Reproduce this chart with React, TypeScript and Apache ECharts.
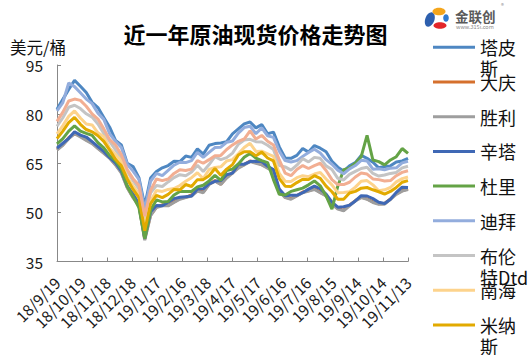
import React, { useEffect, useRef } from "react";
import * as echarts from "echarts";

const FONT = '"Noto Sans CJK SC", "Noto Sans", sans-serif';

const titleText = "近一年原油现货价格走势图";
const yUnit = "美元/桶";
const tickLabels = [
  "18/9/19", "18/10/19", "18/11/18", "18/12/18", "19/1/17", "19/2/16", "19/3/18", "19/4/17",
  "19/5/17", "19/6/16", "19/7/16", "19/8/15", "19/9/14", "19/10/14", "19/11/13",
];

// days since 2018/9/19 of each weekly sample
const sampleDays = [
  0, 7, 14, 21, 28, 35, 42, 49, 56, 63, 70, 77, 84, 91, 98, 105, 112, 119, 126, 133, 140,
  147, 154, 161, 168, 175, 182, 189, 196, 203, 210, 217, 224, 231, 238, 245, 252, 259, 266,
  273, 280, 287, 294, 301, 308, 315, 322, 329, 336, 343, 350, 357, 364, 371, 378, 385, 392,
  399, 406, 413, 420,
];

const tapis = [81.5, 84.5, 87.5, 90.3, 88.5, 86.6, 83.6, 82, 79, 76, 72, 70.6, 65, 64, 60.6, 52, 60.5, 62.5, 63.6, 64.3, 65.6, 65.5, 67.2, 66.8, 69.4, 67.8, 70.5, 71, 71.2, 71.6, 74, 75.5, 77, 77.6, 75.8, 76.8, 74, 74.5, 70, 66.6, 66.5, 67.4, 69.5, 68.4, 70.4, 69.6, 68.5, 65.6, 63.8, 62.6, 64.2, 65.2, 67.4, 66.5, 65.3, 63.6, 64, 64.2, 65.4, 65.7, 66.5];
const daqing = [69.3, 70.6, 72.8, 74.1, 73.3, 72.1, 71.3, 69.6, 68.2, 66.7, 64.6, 62.3, 57.7, 54.6, 52.3, 41.8, 49.2, 51.6, 52.3, 52.1, 53.2, 54.2, 54.6, 55.3, 56.6, 56.2, 58.6, 59.7, 58.6, 60.7, 62.1, 63.7, 64.6, 65.7, 65.2, 64.6, 63.7, 62.6, 56.7, 54.6, 54.2, 55.1, 56.2, 56.6, 57.2, 56.1, 55.2, 52.6, 51.2, 50.6, 52.2, 53.6, 54.7, 54.1, 53.2, 52.6, 52.7, 54.1, 55.7, 56.6, 57.2];
const shengli = [69, 70.5, 72.5, 74, 73, 72, 71, 69.5, 68, 66.5, 64.5, 62, 57.5, 54.5, 52, 41.5, 49, 51.5, 52, 52, 53, 54, 54.5, 55, 56.5, 56, 58.5, 59.5, 58.5, 60.5, 62, 63.5, 64.5, 65.5, 65, 64.5, 63.5, 62.5, 56.5, 54.5, 54, 55, 56, 56.5, 57, 56, 55, 52.5, 51, 50.5, 52, 53.5, 54.5, 54, 53, 52.5, 52.5, 54, 55.5, 56.5, 57];
const sinta = [69.6, 71.1, 72.6, 74.6, 73.6, 73, 71.6, 70.1, 68.6, 66.7, 65.1, 62.6, 58.1, 55.6, 52.6, 42.1, 50.2, 52.1, 52, 53.1, 54.2, 54.6, 54.8, 55, 57.1, 57.2, 58.7, 59.5, 59.7, 61.5, 62, 64.7, 64.7, 65.5, 65.6, 65.5, 64.1, 63.1, 57.1, 55.1, 55.2, 55.2, 56, 57.1, 58, 57.2, 55.6, 53.1, 51.6, 51.7, 52.2, 53.5, 55.1, 55, 54.2, 53.1, 52.7, 54, 56.1, 57.7, 57.6];
const duri = [70.9, 72.5, 74.8, 76.4, 74.8, 74.1, 73.5, 71.3, 69.7, 67.3, 65.7, 63.2, 58, 54.8, 51.5, 42, 50.7, 53.8, 53.2, 53.3, 55.3, 56.4, 56.4, 56.4, 57.8, 58.3, 59.6, 61.3, 59.8, 62.8, 63.2, 64.8, 66.8, 68, 66.6, 65.8, 65.2, 60, 55.5, 55.3, 56.4, 56.9, 57.4, 58.4, 59.6, 58.1, 55, 51, 58, 63, 63.5, 65, 67, 73.5, 66, 65.5, 64.5, 66, 67, 69.5, 68];
const dubai = [81, 83.5, 89.5, 88.4, 86.5, 84.6, 83.2, 80.3, 78.4, 74, 71.7, 69.8, 64.7, 62.6, 60.1, 50.8, 59.5, 61.9, 61.2, 62.8, 64.4, 65.3, 65.2, 65.8, 68.3, 66.8, 68.3, 69.8, 69.9, 71.4, 71.8, 74.2, 75.9, 76.3, 74, 75.8, 73.4, 72.9, 68.7, 65.8, 65.4, 65.8, 67.1, 68.3, 69.3, 68.1, 66.1, 64.7, 62.9, 61.8, 63.3, 64.3, 65.9, 65.7, 63.2, 63.3, 63, 63.5, 63.6, 65.1, 65.6];
const brent = [76.3, 78.9, 82.1, 82.7, 81.7, 80.1, 79.1, 77, 74.1, 71.7, 69.1, 66.6, 62.6, 59.7, 57.2, 47.6, 56, 58.2, 57.9, 59.3, 60.6, 61.5, 61.2, 62.3, 64.4, 62.5, 64.6, 67, 66.1, 66.7, 68.1, 70.8, 72.1, 72.3, 71.6, 71.5, 70.5, 69.2, 64.3, 63.9, 62.9, 64.4, 66.4, 65.4, 66.8, 66.5, 64.2, 63.1, 60.4, 59.9, 61.6, 62.5, 63.4, 63.8, 61.9, 61.1, 61.4, 61.9, 62.2, 63.6, 64.1];
const nanhai = [74, 76.5, 79.3, 81, 78.8, 77, 76.7, 74.3, 73.1, 69.6, 67.7, 65.7, 60.7, 58.1, 55.6, 45.7, 53.4, 56.7, 56.4, 57, 57.3, 58.2, 59.5, 60.6, 62.1, 60.3, 63.1, 63.7, 63.9, 65.7, 66.1, 67.9, 69.8, 71.1, 68.6, 68.7, 67.9, 67.1, 61.9, 59.5, 59.4, 60.6, 61.2, 60.9, 61.7, 62.2, 60.2, 58.4, 56, 56.1, 56.3, 57.7, 59.5, 59.7, 58.4, 56.6, 56.9, 57.6, 59.3, 60.3, 60.8];
const minas = [72.5, 74.8, 77.4, 79, 76.9, 75.3, 74.6, 73.4, 71.7, 69, 66.2, 64.2, 60.2, 57, 54.5, 44.4, 52.7, 55.2, 54.5, 55.5, 57, 56.9, 58.5, 57.9, 60, 60, 61.2, 63.4, 61.3, 63.2, 64.6, 67.5, 68.5, 68.5, 67.3, 68.4, 66.6, 65.7, 60.3, 58, 57.9, 59.1, 60.1, 60, 61.2, 60.4, 58, 56.3, 54, 54, 55.9, 56.4, 57.4, 57.6, 56.9, 56.3, 55.6, 56.4, 57.6, 59.2, 59.7];
// tenth series, its legend entry falls below the visible area
const tenth = [77.8, 80.6, 84, 84.6, 84.2, 82.4, 80.1, 78.5, 75.5, 72.2, 70.6, 67.6, 63.1, 60.3, 58.3, 48.9, 56.7, 60.2, 59.7, 60.2, 61.9, 63, 62.8, 63.2, 65.8, 65, 66.1, 67.3, 67.4, 69.2, 70.6, 71.7, 72.4, 74.9, 72.4, 73.5, 71.7, 70.6, 66, 62, 61.2, 63.1, 64.3, 63.4, 64.3, 65, 62.8, 60, 58.5, 58.5, 59.2, 60.8, 62, 61.7, 60.2, 60, 59.6, 59.7, 61.2, 62.2, 62.7];

const seriesNames = ["塔皮斯", "大庆", "胜利", "辛塔", "杜里", "迪拜", "布伦特Dtd", "南海", "米纳斯"];
const seriesValues = [tapis, daqing, shengli, sinta, duri, dubai, brent, nanhai, minas];
const seriesColors = ["#4E87C2", "#D5702D", "#9E9E9E", "#3F68B5", "#64A346", "#93ADDD", "#C4C4C4", "#FDD38C", "#E2AA00"];
const tenthColor = "#F2AE92";

function wrapName(n: string) {
  return n.length > 2 ? n.slice(0, 2) + "\n" + n.slice(2) : n;
}

export default function App() {
  const ref = useRef<HTMLDivElement>(null);
  useEffect(() => {
    document.body.style.margin = "0";
    if (!ref.current) return;
    const chart = echarts.init(ref.current, null, { renderer: "svg" });

    const lineSeries: any[] = seriesValues.map((vals, k) => ({
      type: "line",
      name: seriesNames[k],
      data: sampleDays.map((d, i) => [d, vals[i]]),
      symbol: "none",
      showSymbol: false,
      lineStyle: { width: 3, color: seriesColors[k] },
      itemStyle: { color: seriesColors[k] },
    }));
    lineSeries.push({
      type: "line",
      data: sampleDays.map((d, i) => [d, tenth[i]]),
      symbol: "none",
      showSymbol: false,
      lineStyle: { width: 3, color: tenthColor },
      itemStyle: { color: tenthColor },
    });

    const legendGraphics: any[] = [];
    seriesNames.forEach((n, k) => {
      const y = 47.3 + k * 34.7;
      legendGraphics.push({
        type: "line",
        shape: { x1: 433, y1: y, x2: 475, y2: y },
        style: { stroke: seriesColors[k], lineWidth: 3 },
      });
      legendGraphics.push({
        type: "text",
        x: 480,
        y: y - 10.5,
        style: {
          text: wrapName(n),
          fill: "#111",
          font: `18px ${FONT}`,
          lineHeight: 21,
          textVerticalAlign: "top",
          verticalAlign: "top",
        },
      });
    });

    const axisColor = "#888888";
    chart.setOption({
      animation: false,
      backgroundColor: "#ffffff",
      textStyle: { fontFamily: FONT },
      grid: { left: 57, top: 65, width: 351, height: 196.5, containLabel: false },
      xAxis: {
        type: "value",
        min: 0,
        max: 420,
        interval: 30,
        splitLine: { show: false },
        axisLine: { show: true, lineStyle: { color: axisColor, width: 1 } },
        axisTick: { show: true, inside: true, length: 4, lineStyle: { color: axisColor } },
        axisLabel: {
          rotate: 45,
          margin: 18,
          fontSize: 15.5,
          color: "#1a1a1a",
          fontFamily: FONT,
          showMinLabel: true,
          showMaxLabel: true,
          formatter: (v: number) => tickLabels[Math.round(v / 30)] ?? "",
        },
      },
      yAxis: {
        type: "value",
        min: 35,
        max: 95,
        interval: 15,
        splitLine: { show: false },
        axisLine: { show: true, lineStyle: { color: axisColor, width: 1 } },
        axisTick: { show: true, inside: true, length: 4, lineStyle: { color: axisColor } },
        axisLabel: { margin: 14, fontSize: 15.5, color: "#1a1a1a", fontFamily: FONT },
      },
      series: lineSeries,
      graphic: [
        {
          type: "text",
          x: 255.5,
          y: 33,
          style: {
            text: titleText,
            fill: "#000",
            font: `bold 22px ${FONT}`,
            textAlign: "center",
            textVerticalAlign: "middle",
            align: "center",
            verticalAlign: "middle",
          },
        },
        {
          type: "text",
          x: 10,
          y: 47,
          style: {
            text: yUnit,
            fill: "#111",
            font: `16.5px ${FONT}`,
            textVerticalAlign: "middle",
            verticalAlign: "middle",
          },
        },
        // logo
        { type: "ellipse", shape: { cx: 430, cy: 19.5, rx: 4.6, ry: 7.5 }, rotation: -0.35, originX: 430, originY: 19.5, style: { fill: "#2D5FAE" } },
        { type: "ellipse", shape: { cx: 439, cy: 11.5, rx: 6.5, ry: 3.8 }, style: { fill: "#F4A51C" } },
        { type: "ellipse", shape: { cx: 440, cy: 25.5, rx: 6.5, ry: 3.3 }, style: { fill: "#E2262A" } },
        { type: "ellipse", shape: { cx: 446, cy: 18, rx: 2.8, ry: 3.8 }, style: { fill: "#2F7AD0" } },
        { type: "text", x: 455, y: 15.5, style: { text: "金联创", fill: "#5a5a5a", font: `bold 13.5px ${FONT}`, textVerticalAlign: "middle", verticalAlign: "middle" } },
        { type: "text", x: 456, y: 26.5, style: { text: "www.315i.com", fill: "#8a8a8a", font: `5.5px ${FONT}`, textVerticalAlign: "middle", verticalAlign: "middle" } },
        { type: "text", x: 501, y: 5, style: { text: "®", fill: "#8a8a8a", font: `6px ${FONT}`, textVerticalAlign: "middle", verticalAlign: "middle" } },
        ...legendGraphics,
      ],
    });
    return () => chart.dispose();
  }, []);
  return <div ref={ref} style={{ width: 532, height: 355 }} />;
}
